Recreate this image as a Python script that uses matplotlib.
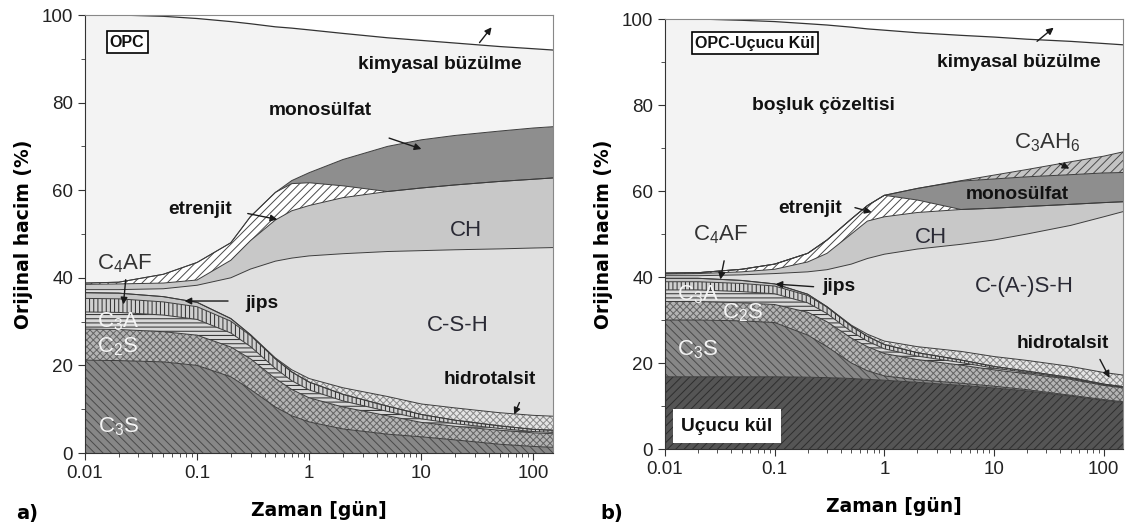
import numpy as np
import matplotlib
matplotlib.use("Agg")
import matplotlib.pyplot as plt
from matplotlib.ticker import MultipleLocator, LogLocator, FuncFormatter, NullFormatter

plt.rcParams['font.family'] = ['Liberation Sans', 'DejaVu Sans']
plt.rcParams['mathtext.fontset'] = 'custom'
plt.rcParams['mathtext.rm'] = 'Liberation Sans'
plt.rcParams['hatch.linewidth'] = 0.7

# zaman noktalari [gun]
t_gun = [0.01, 0.02, 0.05, 0.1, 0.2, 0.3, 0.5, 0.7, 1, 2, 5, 10, 20, 50, 100, 150]

# (a) OPC - faz kalinliklari (% orijinal hacim), alttan uste
opc_c3s = [21.2, 21.1, 20.8, 20.0, 17.4, 14.5, 10.5, 8.5, 7.1, 5.5, 4.3, 3.7, 3.0, 2.0, 1.5, 1.3]
opc_c2s = [7.1, 7.1, 6.9, 6.9, 6.8, 7.0, 6.5, 6.0, 5.5, 5.0, 4.2, 3.3, 3.1, 3.2, 3.1, 3.1]
opc_c3a = [3.9, 3.9, 3.8, 3.6, 3.2, 2.8, 2.3, 2.0, 1.8, 1.4, 1.0, 0.8, 0.6, 0.4, 0.3, 0.3]
opc_c4af = [3.1, 3.1, 3.0, 2.9, 2.7, 2.5, 2.2, 2.0, 1.8, 1.5, 1.2, 1.0, 0.8, 0.6, 0.5, 0.5]
opc_jips = [1.3, 1.3, 1.2, 1.0, 0.6, 0.2, 0, 0, 0, 0, 0, 0, 0, 0, 0, 0]
opc_hidrotalsit = [0, 0, 0, 0, 0, 0, 0.2, 0.5, 0.8, 1.5, 2.2, 2.4, 2.8, 3.0, 3.2, 3.2]
opc_csh = [0.7, 0.8, 1.8, 3.9, 9.3, 15.0, 22.1, 25.5, 28.0, 30.6, 33.1, 35.0, 36.1, 37.4, 38.2, 38.5]
opc_ch = [1.2, 1.3, 1.3, 1.2, 4.0, 6.5, 9.4, 10.8, 11.5, 12.8, 13.7, 14.3, 14.8, 15.4, 15.7, 15.9]
opc_etrenjit = [0.3, 0.4, 2.0, 4.0, 4.0, 5.5, 6.3, 6.2, 5.2, 2.7, 0, 0, 0, 0, 0, 0]
opc_monosulfat = [0, 0, 0, 0, 0, 0, 0, 0.7, 2.3, 6.0, 10.3, 11.0, 11.3, 11.5, 11.7, 11.7]
opc_buzulme = [100, 100, 99.7, 99.2, 98.5, 98.0, 97.3, 97.0, 96.6, 95.8, 94.8, 94.2, 93.6, 92.8, 92.3, 92.0]

# (b) OPC-Ucucu kul
uk_ucucu_kul = [16.8, 16.8, 16.8, 16.8, 16.7, 16.6, 16.4, 16.2, 16.0, 15.5, 14.8, 14.2, 13.5, 12.3, 11.3, 10.8]
uk_c3s = [13.2, 13.2, 13.0, 12.6, 9.8, 7.2, 3.6, 2.0, 1.0, 0.6, 0.5, 0.4, 0.3, 0.2, 0.2, 0.2]
uk_c2s = [4.3, 4.3, 4.2, 4.2, 5.3, 5.8, 5.8, 5.6, 5.2, 4.7, 4.2, 3.8, 3.7, 3.7, 3.3, 3.2]
uk_c3a = [2.7, 2.7, 2.6, 2.5, 2.2, 1.9, 1.5, 1.3, 1.1, 0.8, 0.6, 0.4, 0.3, 0.2, 0.15, 0.15]
uk_c4af = [1.9, 1.9, 1.9, 1.8, 1.7, 1.5, 1.3, 1.1, 1.0, 0.8, 0.6, 0.4, 0.3, 0.2, 0.15, 0.15]
uk_jips = [0.8, 0.8, 0.7, 0.5, 0.3, 0.1, 0, 0, 0, 0, 0, 0, 0, 0, 0, 0]
uk_hidrotalsit = [0, 0, 0, 0, 0, 0, 0.2, 0.5, 0.8, 1.4, 2.0, 2.3, 2.5, 2.6, 2.7, 2.7]
uk_csh = [0.6, 0.6, 1.3, 2.4, 5.2, 8.6, 14.2, 17.6, 20.2, 22.7, 24.9, 27.1, 29.4, 32.8, 36.2, 38.0]
uk_ch = [0.4, 0.5, 0.7, 1.0, 2.3, 3.8, 7.0, 8.7, 8.7, 8.5, 8.1, 7.4, 6.4, 4.9, 3.3, 2.3]
uk_etrenjit = [0.2, 0.2, 0.6, 1.2, 2.0, 3.1, 3.5, 3.6, 5.0, 2.9, 0, 0, 0, 0, 0, 0]
uk_monosulfat = [0, 0, 0, 0, 0, 0, 0, 0, 0, 2.7, 6.6, 6.8, 6.9, 6.9, 6.9, 6.8]
uk_c3ah6 = [0, 0, 0, 0, 0, 0, 0, 0, 0, 0, 0.1, 0.9, 1.7, 3.0, 3.9, 4.8]
uk_buzulme = [100, 100, 99.7, 99.4, 98.9, 98.6, 98.1, 97.7, 97.4, 96.8, 96.2, 95.8, 95.3, 94.8, 94.3, 94.0]

# stil: (yuz rengi, tarama, tarama rengi)
STYLE = {
    'ucucu_kul': ('#555555', '////', '#2e2e2e'),
    'c3s': ('#878787', '\\\\\\\\', '#4a4a4a'),
    'c2s': ('#b4b4b4', 'xxxxx', '#646464'),
    'c3a': ('#d8d8d8', '----', '#2a2a2a'),
    'c4af': ('#d0d0d0', '||||', '#2a2a2a'),
    'jips': ('#c6c6c6', None, None),
    'hidrotalsit': ('#e4e4e4', 'xxxxx', '#8a8a8a'),
    'csh': ('#e0e0e0', None, None),
    'ch': ('#c8c8c8', None, None),
    'etrenjit': ('#ffffff', '////', '#4a4a4a'),
    'monosulfat': ('#8e8e8e', None, None),
    'c3ah6': ('#c4c4c4', '////', '#4a4a4a'),
}


def draw_panel(ax, layers, shrink):
    base = np.zeros(len(t_gun))
    for name, vals in layers:
        fc, hatch, hc = STYLE[name]
        top = base + np.array(vals)
        if hatch:
            ax.fill_between(t_gun, base, top, facecolor=fc, hatch=hatch, edgecolor=hc, linewidth=0)
        else:
            ax.fill_between(t_gun, base, top, facecolor=fc, linewidth=0)
        ax.plot(t_gun, top, color='#3c3c3c', lw=0.7)
        base = top
    ax.fill_between(t_gun, base, shrink, facecolor='#f3f3f3', linewidth=0)
    ax.fill_between(t_gun, shrink, 100, facecolor='white', linewidth=0)
    ax.plot(t_gun, shrink, color='#333333', lw=0.9)

    ax.set_xscale('log')
    ax.set_xlim(0.01, 150)
    ax.set_ylim(0, 100)
    ax.xaxis.set_major_locator(LogLocator(base=10, numticks=10))
    ax.xaxis.set_minor_locator(LogLocator(base=10, subs=np.arange(2, 10), numticks=20))
    ax.xaxis.set_major_formatter(FuncFormatter(lambda v, p: '{:g}'.format(v)))
    ax.xaxis.set_minor_formatter(NullFormatter())
    ax.yaxis.set_major_locator(MultipleLocator(20))
    ax.yaxis.set_minor_locator(MultipleLocator(10))
    ax.tick_params(which='both', direction='out', labelsize=13.5, labelcolor='#222222', color='#333333')
    ax.tick_params(which='major', length=5)
    ax.tick_params(which='minor', length=3)
    for s in ['left', 'bottom']:
        ax.spines[s].set_color('#333333')
    for s in ['top', 'right']:
        ax.spines[s].set_color('#888888')
    ax.set_xlabel('Zaman [gün]', fontsize=13.5, fontweight='bold', family='DejaVu Sans', labelpad=14)
    ax.set_ylabel('Orijinal hacim (%)', fontsize=13.5, fontweight='bold', family='DejaVu Sans', labelpad=6)


def label(ax, x, y, s, size=13.8, bold=True, color='#111111', **kw):
    ax.text(x, y, s, transform=ax.transAxes, fontsize=size, ha='center', va='center',
            fontweight='bold' if bold else 'normal', color=color, **kw)


def arrow(ax, tail, head, ls='-'):
    ax.annotate('', xy=head, xytext=tail,
                arrowprops=dict(arrowstyle='-|>', color='#1a1a1a', lw=1.0, mutation_scale=10, linestyle=ls))


fig = plt.figure(figsize=(11.32, 5.27), dpi=100)
ax1 = fig.add_axes([85 / 1132, 74 / 527, 468 / 1132, 438 / 527])
ax2 = fig.add_axes([665 / 1132, 78 / 527, 458 / 1132, 430 / 527])

draw_panel(ax1, [('c3s', opc_c3s), ('c2s', opc_c2s), ('c3a', opc_c3a), ('c4af', opc_c4af),
                 ('jips', opc_jips), ('hidrotalsit', opc_hidrotalsit), ('csh', opc_csh),
                 ('ch', opc_ch), ('etrenjit', opc_etrenjit), ('monosulfat', opc_monosulfat)],
           opc_buzulme)

draw_panel(ax2, [('ucucu_kul', uk_ucucu_kul), ('c3s', uk_c3s), ('c2s', uk_c2s), ('c3a', uk_c3a),
                 ('c4af', uk_c4af), ('jips', uk_jips), ('hidrotalsit', uk_hidrotalsit),
                 ('csh', uk_csh), ('ch', uk_ch), ('etrenjit', uk_etrenjit),
                 ('monosulfat', uk_monosulfat), ('c3ah6', uk_c3ah6)],
           uk_buzulme)

box = dict(boxstyle='square,pad=0.2', facecolor='white', edgecolor='black', lw=1.2)

# (a) etiketler
label(ax1, 0.09, 0.938, 'OPC', size=11.5, bbox=box)
label(ax1, 0.758, 0.886, 'kimyasal büzülme')
label(ax1, 0.502, 0.783, 'monosülfat')
label(ax1, 0.246, 0.555, 'etrenjit')
label(ax1, 0.814, 0.509, 'CH', size=16, bold=False, color='#2a2a35')
label(ax1, 0.797, 0.292, 'C-S-H', size=16, bold=False, color='#2a2a35')
label(ax1, 0.378, 0.342, 'jips')
label(ax1, 0.865, 0.167, 'hidrotalsit')
label(ax1, 0.085, 0.432, r'C$_\mathregular{4}$AF', size=16, bold=False, color='#333333')
label(ax1, 0.07, 0.30, r'C$_\mathregular{3}$A', size=16, bold=False, color='#f4f4f4')
label(ax1, 0.07, 0.242, r'C$_\mathregular{2}$S', size=16, bold=False, color='#f4f4f4')
label(ax1, 0.073, 0.06, r'C$_\mathregular{3}$S', size=16, bold=False, color='#f4f4f4')

arrow(ax1, (32, 93.2), (44, 97.7))
arrow(ax1, (4.9, 72.1), (10.6, 69.2))
arrow(ax1, (0.268, 54.8), (0.55, 53.2))
arrow(ax1, (0.0232, 40.2), (0.0219, 33.3))
arrow(ax1, (0.2, 34.7), (0.073, 34.7))
arrow(ax1, (77, 12.1), (66, 8.2))

# (b) etiketler
label(ax2, 0.196, 0.944, 'OPC-Uçucu Kül', size=11.5, bbox=box)
label(ax2, 0.773, 0.90, 'kimyasal büzülme')
label(ax2, 0.345, 0.80, 'boşluk çözeltisi')
label(ax2, 0.834, 0.712, r'C$_\mathregular{3}$AH$_\mathregular{6}$', size=16, bold=False, color='#333333')
label(ax2, 0.769, 0.591, 'monosülfat')
label(ax2, 0.317, 0.56, 'etrenjit')
label(ax2, 0.581, 0.493, 'CH', size=16, bold=False, color='#2a2a35')
label(ax2, 0.122, 0.498, r'C$_\mathregular{4}$AF', size=16, bold=False, color='#333333')
label(ax2, 0.784, 0.377, 'C-(A-)S-H', size=16, bold=False, color='#2a2a35')
label(ax2, 0.38, 0.379, 'jips')
label(ax2, 0.869, 0.246, 'hidrotalsit')
label(ax2, 0.072, 0.358, r'C$_\mathregular{3}$A', size=16, bold=False, color='#f4f4f4')
label(ax2, 0.17, 0.316, r'C$_\mathregular{2}$S', size=16, bold=False, color='#f4f4f4')
label(ax2, 0.072, 0.23, r'C$_\mathregular{3}$S', size=16, bold=False, color='#f4f4f4')
label(ax2, 0.135, 0.053, 'Uçucu kül',
      bbox=dict(boxstyle='square,pad=0.45', facecolor='white', edgecolor='none'))

arrow(ax2, (23.6, 94.4), (36.6, 98.4))
arrow(ax2, (37.4, 66.7), (51.2, 64.9))
arrow(ax2, (0.51, 56.3), (0.81, 54.9))
arrow(ax2, (0.035, 44.4), (0.0316, 38.8))
arrow(ax2, (0.24, 37.7), (0.096, 38.4))
arrow(ax2, (90, 21.4), (116, 16.0))

fig.text(16 / 1132, 1 - 513 / 527, 'a)', fontsize=14, fontweight='bold', family='DejaVu Sans', va='center')
fig.text(600 / 1132, 1 - 513 / 527, 'b)', fontsize=14, fontweight='bold', family='DejaVu Sans', va='center')

fig.savefig('out.png', dpi=100)
